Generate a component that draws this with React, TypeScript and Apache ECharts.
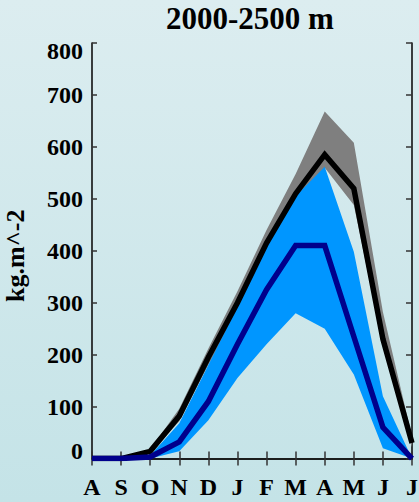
import React, { useEffect, useRef } from 'react';
import * as echarts from 'echarts';

const months = ['A', 'S', 'O', 'N', 'D', 'J', 'F', 'M', 'A', 'M', 'J', 'J'];
const allMean = [0, 0, 14, 82, 195, 300, 415, 510, 585, 520, 230, 30];
const allLow = [0, 0, 10, 72, 180, 282, 398, 496, 560, 488, 218, 22];
const allHigh = [0, 0, 18, 96, 212, 322, 440, 548, 668, 608, 282, 42];
const blueMean = [0, 0, 3, 32, 110, 220, 325, 410, 410, 235, 60, 0];
const blueLow = [0, 0, 0, 14, 74, 155, 220, 280, 250, 162, 20, 0];
const blueHigh = [0, 0, 6, 68, 180, 292, 410, 505, 562, 398, 120, 0];

const FONT = '"Liberation Serif", "DejaVu Serif", serif';

export default function App() {
  const ref = useRef<HTMLDivElement>(null);
  useEffect(() => {
    document.body.style.margin = '0';
    const chart = echarts.init(ref.current!, null, { renderer: 'svg' });
    const band = (stack: string, low: number[], high: number[], color: string, z: number) => [
      {
        type: 'line', stack, data: low, symbol: 'none', silent: true, z,
        lineStyle: { width: 0, opacity: 0 },
      },
      {
        type: 'line', stack, data: high.map((h, i) => h - low[i]), symbol: 'none', silent: true, z,
        lineStyle: { width: 0, opacity: 0 },
        areaStyle: { color, opacity: 1 },
      },
    ];
    const labelStyle = { fontFamily: FONT, fontWeight: 'bold' as const, fontSize: 24, color: '#000' };
    chart.setOption({
      animation: false,
      title: {
        text: '2000-2500 m',
        left: 166,
        top: 3,
        padding: 0,
        textStyle: { fontFamily: FONT, fontWeight: 'bold', fontSize: 31, color: '#000' },
      },
      grid: { left: 92, right: 7, top: 43, bottom: 43.4, containLabel: false, outerBoundsMode: 'none' },
      xAxis: [
        {
          type: 'category', data: months, boundaryGap: false, position: 'bottom',
          axisLine: { lineStyle: { color: '#111', width: 1.6 } },
          axisTick: { show: true, inside: false, length: 7, alignWithLabel: true, lineStyle: { color: '#333', width: 1.5 } },
          axisLabel: { ...labelStyle, margin: 16, interval: 0 },
          splitLine: { show: false },
        },
        {
          type: 'category', data: months, boundaryGap: false, position: 'top',
          axisLine: { lineStyle: { color: '#111', width: 1.6 } },
          axisTick: { show: true, inside: false, length: 7, lineStyle: { color: '#333', width: 1.5 } },
          axisLabel: { show: false },
          splitLine: { show: false },
        },
      ],
      yAxis: [
        {
          type: 'value', min: 0, max: 800, interval: 100, position: 'left',
          name: 'kg.m^-2', nameLocation: 'middle', nameRotate: 90, nameGap: 64,
          nameTextStyle: { fontFamily: FONT, fontWeight: 'bold', fontSize: 26, color: '#000', padding: [0, 10, 0, 0] },
          axisLine: { show: true, lineStyle: { color: '#111', width: 1.6 } },
          axisTick: { show: true, inside: true, length: 5, lineStyle: { color: '#333', width: 1.5 } },
          splitLine: { show: false },
          axisLabel: {
            margin: 9,
            formatter: (v: number) => (v === 800 ? `{dn|${v}}` : v === 0 ? `{up|${v}}` : `{n|${v}}`),
            rich: {
              n: { ...labelStyle },
              dn: { ...labelStyle, padding: [16, 0, 0, 0] },
              up: { ...labelStyle, padding: [0, 0, 16, 0] },
            },
          },
        },
        {
          type: 'value', min: 0, max: 800, interval: 100, position: 'right',
          axisLine: { show: true, lineStyle: { color: '#111', width: 1.6 } },
          axisTick: { show: true, inside: true, length: 6, lineStyle: { color: '#333', width: 1.5 } },
          axisLabel: { show: false },
          splitLine: { show: false },
        },
      ],
      series: [
        ...band('gray', allLow, allHigh, '#7f7f7f', 2),
        ...band('blue', blueLow, blueHigh, '#0096ff', 3),
        {
          type: 'line', data: allMean, symbol: 'none', z: 4,
          lineStyle: { color: '#000', width: 5.5, join: 'miter' },
        },
        {
          type: 'line', data: blueMean, symbol: 'none', z: 5,
          lineStyle: { color: '#00008c', width: 5.5, join: 'miter' },
        },
      ],
    });
    return () => chart.dispose();
  }, []);
  return (
    <div
      ref={ref}
      style={{
        position: 'absolute', left: 0, top: 0, width: 419, height: 502,
        background: 'linear-gradient(#dcedf0, #c4e3e7)',
      }}
    />
  );
}
